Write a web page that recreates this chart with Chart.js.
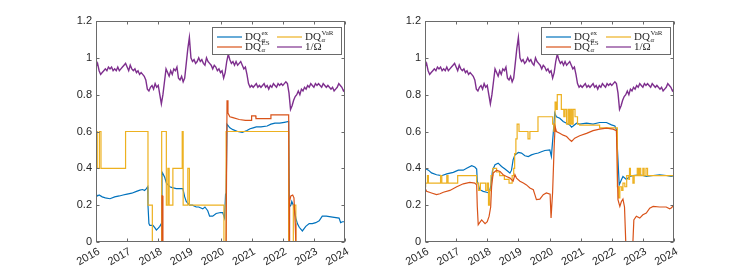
<!DOCTYPE html>
<html>
<head>
<meta charset="utf-8">
<script src="https://cdn.jsdelivr.net/npm/chart.js@4"></script>
<style>
  body { margin: 0; background: #fff; }
  #wrap { position: relative; width: 745px; height: 273px; }
  canvas { position: absolute; top: 0; }
</style>
</head>
<body>
<div id="wrap">
  <canvas id="left" width="372" height="273" style="left:0"></canvas>
  <canvas id="right" width="372" height="273" style="left:329px"></canvas>
</div>
<script>
// axis ticks
const xTicks = [2016, 2017, 2018, 2019, 2020, 2021, 2022, 2023, 2024];
const yTicks = [0, 0.2, 0.4, 0.6, 0.8, 1, 1.2];

// 1/Omega, same in both panels, sampled every 0.05 year from 2016
const omegaStart = 2016, omegaStep = 0.05;
const omegaVals = [
  0.95,0.97,0.93,0.91,0.92,0.93,0.94,0.93,0.95,0.94,0.95,0.93,0.94,0.93,0.95,0.93,0.94,0.95,0.96,0.97,
  0.95,0.93,0.96,0.94,0.93,0.94,0.92,0.93,0.91,0.92,0.91,0.90,0.88,0.83,0.82,0.84,0.85,0.83,0.86,0.84,
  0.85,0.80,0.75,0.80,0.87,0.94,0.92,0.90,0.93,0.91,0.94,0.93,0.95,0.89,0.88,0.90,0.87,0.89,0.97,1.05,
  1.11,1.00,0.98,0.99,0.97,0.98,1.00,0.98,0.99,0.97,0.96,1.00,0.98,0.97,0.96,0.94,0.96,0.95,0.93,0.94,
  0.92,0.93,0.89,0.92,0.98,1.02,0.99,0.97,0.98,0.96,0.98,0.96,0.97,0.98,0.96,0.94,0.95,0.91,0.86,0.84,
  0.85,0.84,0.85,0.86,0.84,0.85,0.84,0.85,0.86,0.84,0.85,0.83,0.85,0.84,0.86,0.85,0.84,0.86,0.85,0.86,
  0.85,0.86,0.87,0.86,0.81,0.72,0.74,0.77,0.79,0.80,0.82,0.80,0.83,0.82,0.84,0.83,0.85,0.84,0.86,0.85,
  0.84,0.86,0.85,0.86,0.85,0.84,0.86,0.85,0.84,0.85,0.84,0.83,0.84,0.82,0.83,0.84,0.86,0.85,0.84,0.82,
  0.83
];

// left panel: DQ ex
const exLeftT = [
  2016.00,2016.05,2016.10,2016.20,2016.30,2016.45,2016.60,2016.75,2016.87,2017.00,
  2017.15,2017.30,2017.41,2017.50,2017.56,2017.62,2017.66,2017.67,2017.70,2017.73,
  2017.83,2017.90,2017.94,2018.00,2018.05,2018.10,2018.12,2018.14,2018.21,2018.26,
  2018.37,2018.45,2018.58,2018.70,2018.79,2018.85,2018.90,2019.01,2019.10,2019.22,
  2019.30,2019.43,2019.50,2019.59,2019.65,2019.75,2019.86,2020.00,2020.07,2020.13,
  2020.16,2020.18,2020.21,2020.30,2020.40,2020.55,2020.70,2020.85,2020.95,2021.05,
  2021.15,2021.30,2021.50,2021.62,2021.75,2021.90,2022.05,2022.19,2022.21,2022.26,
  2022.29,2022.34,2022.38,2022.42,2022.47,2022.53,2022.63,2022.74,2022.85,2022.95,
  2023.06,2023.17,2023.27,2023.40,2023.60,2023.81,2023.86,2023.92,2024.00
];
const exLeftV = [
  0.26,0.25,0.255,0.245,0.24,0.235,0.245,0.25,0.255,0.26,
  0.265,0.275,0.282,0.285,0.28,0.29,0.30,0.20,0.10,0.09,
  0.09,0.075,0.065,0.075,0.085,0.10,0.38,0.375,0.35,0.32,
  0.30,0.295,0.29,0.29,0.29,0.245,0.22,0.20,0.20,0.19,
  0.19,0.18,0.19,0.17,0.14,0.14,0.155,0.16,0.16,0.13,
  0.25,0.24,0.64,0.62,0.61,0.60,0.595,0.605,0.615,0.62,
  0.625,0.625,0.63,0.64,0.645,0.645,0.65,0.655,0.19,0.20,
  0.22,0.20,0.17,0.13,0.10,0.08,0.06,0.085,0.10,0.10,
  0.105,0.115,0.14,0.14,0.135,0.13,0.105,0.11,0.11
];
// left panel: DQ ES
const esLeftT = [
  2016.00,2018.11,2018.12,2018.14,2018.15,2020.18,2020.21,2020.24,2020.30,2020.40,
  2020.60,2020.80,2020.99,2021.00,2021.13,2021.14,2021.61,2021.62,2022.19,2022.21,
  2022.22,2022.26,2022.32,2022.36,2022.40,2022.42,2024.00
];
const esLeftV = [
  0,0,0.25,0.25,0,0,0.77,0.70,0.68,0.675,
  0.665,0.66,0.66,0.685,0.685,0.67,0.67,0.69,0.69,0,
  0.22,0.25,0.255,0.24,0.10,0,0
];
// left panel: DQ VaR (level starts at the given time)
const varLeftT = [
  2016.00,2016.04,2016.11,2016.16,2016.95,2017.67,2017.81,2018.11,2018.26,2018.31,
  2018.35,2018.47,2018.77,2018.80,2018.95,2019.00,2020.11,2020.18,2022.19,2022.34,
  2022.42,2024.00
];
const varLeftV = [
  0.6,0.4,0.6,0.4,0.6,0.2,0,0.6,0.2,0.4,
  0.2,0.4,0.6,0.2,0.4,0.2,0,0.6,0,0.2,
  0,0
];

// right panel: DQ ex
const exRightT = [
  2016.00,2016.05,2016.11,2016.21,2016.37,2016.53,2016.70,2016.91,2017.07,2017.23,
  2017.34,2017.50,2017.60,2017.66,2017.68,2017.76,2017.87,2017.98,2018.06,2018.11,
  2018.17,2018.25,2018.35,2018.46,2018.57,2018.67,2018.73,2018.78,2018.83,2018.89,
  2019.00,2019.10,2019.21,2019.32,2019.42,2019.53,2019.64,2019.74,2019.85,2020.01,
  2020.06,2020.12,2020.17,2020.22,2020.33,2020.44,2020.55,2020.65,2020.71,2020.76,
  2020.87,2020.97,2021.19,2021.40,2021.61,2021.83,2021.99,2022.10,2022.15,2022.20,
  2022.24,2022.31,2022.36,2022.47,2022.58,2022.68,2022.90,2023.11,2023.33,2023.54,
  2023.75,2023.91,2024.00
];
const exRightV = [
  0.40,0.395,0.39,0.375,0.365,0.36,0.37,0.378,0.39,0.39,
  0.40,0.414,0.407,0.396,0.33,0.284,0.275,0.27,0.266,0.30,
  0.39,0.42,0.428,0.41,0.396,0.383,0.374,0.39,0.446,0.473,
  0.486,0.483,0.468,0.464,0.473,0.479,0.483,0.49,0.497,0.50,
  0.465,0.59,0.70,0.68,0.672,0.654,0.645,0.636,0.624,0.63,
  0.645,0.64,0.645,0.64,0.649,0.649,0.636,0.63,0.61,0.446,
  0.31,0.338,0.356,0.34,0.356,0.36,0.365,0.356,0.361,0.365,
  0.361,0.356,0.361
];
// right panel: DQ ES
const esRightT = [
  2016.00,2016.05,2016.21,2016.37,2016.48,2016.59,2016.80,2017.02,2017.23,2017.44,
  2017.60,2017.66,2017.68,2017.71,2017.82,2017.93,2018.00,2018.06,2018.11,2018.14,
  2018.19,2018.30,2018.41,2018.51,2018.62,2018.73,2018.83,2018.89,2018.94,2019.05,
  2019.16,2019.26,2019.37,2019.48,2019.53,2019.58,2019.69,2019.80,2019.90,2020.02,
  2020.05,2020.10,2020.15,2020.18,2020.22,2020.33,2020.44,2020.55,2020.65,2020.71,
  2020.81,2020.97,2021.19,2021.40,2021.61,2021.83,2022.04,2022.15,2022.20,2022.26,
  2022.31,2022.36,2022.41,2022.45,2022.68,2022.71,2022.79,2022.90,2023.00,2023.11,
  2023.22,2023.33,2023.54,2023.75,2023.86,2023.91,2024.00
];
const esRightV = [
  0.293,0.275,0.266,0.257,0.262,0.27,0.28,0.30,0.316,0.324,
  0.32,0.31,0.193,0.094,0.12,0.10,0.11,0.14,0.19,0.30,
  0.374,0.39,0.383,0.365,0.356,0.347,0.33,0.365,0.347,0.33,
  0.32,0.31,0.293,0.284,0.257,0.23,0.233,0.257,0.266,0.26,
  0.13,0.27,0.52,0.627,0.60,0.59,0.58,0.573,0.555,0.546,
  0.564,0.577,0.59,0.605,0.613,0.618,0.613,0.605,0.23,0.193,
  0.22,0.233,0.19,0,0,0.12,0.14,0.13,0.148,0.157,
  0.184,0.193,0.19,0.19,0.18,0.185,0.20
];
// right panel: DQ VaR (level starts at the given time)
const varRightT = [
  2016.00,2016.02,2016.08,2016.11,2016.50,2016.54,2016.70,2016.74,2017.05,2017.66,
  2017.72,2017.78,2017.95,2018.00,2018.04,2018.08,2018.12,2018.18,2018.30,2018.40,
  2018.55,2018.70,2018.80,2018.85,2018.88,2018.92,2018.96,2019.02,2019.31,2019.37,
  2019.63,2020.10,2020.14,2020.18,2020.22,2020.25,2020.38,2020.46,2020.50,2020.55,
  2020.60,2020.64,2020.68,2020.72,2020.76,2020.82,2020.90,2020.97,2021.61,2022.18,
  2022.22,2022.26,2022.32,2022.36,2022.42,2022.48,2022.55,2022.57,2022.60,2022.68,
  2022.72,2022.82,2022.86,2022.89,2022.93,2023.00,2023.04,2023.10,2023.15,2024.00
];
const varRightV = [
  0.30,0.32,0.36,0.32,0.36,0.32,0.36,0.32,0.36,0.32,
  0.28,0.32,0.28,0.32,0.20,0.28,0.36,0.40,0.38,0.36,
  0.34,0.32,0.36,0.40,0.48,0.56,0.64,0.60,0.56,0.60,
  0.68,0.64,0.60,0.76,0.72,0.80,0.72,0.68,0.72,0.64,
  0.72,0.64,0.72,0.64,0.72,0.68,0.64,0.635,0.62,0.30,
  0.24,0.30,0.28,0.32,0.30,0.36,0.34,0.40,0.36,0.32,
  0.36,0.40,0.36,0.40,0.36,0.40,0.36,0.40,0.36,0.36
];

const BLUE = '#0072BD', ORANGE = '#D95319', YELLOW = '#EDB120', PURPLE = '#7E2F8E';
const AXIS = '#6a6a6a', TEXT = '#262626';

function pts(t, v) { return t.map((x, i) => ({ x: x, y: v[i] })); }
const omegaPts = omegaVals.map((v, i) => ({ x: omegaStart + i * omegaStep, y: v }));

function drawLegend(ctx, a) {
  const w = 129, h = 27;
  const x0 = Math.round(a.right) - 4 - w, y0 = Math.round(a.top) + 6;
  ctx.fillStyle = '#fff';
  ctx.fillRect(x0, y0, w, h);
  ctx.strokeStyle = AXIS;
  ctx.lineWidth = 1;
  ctx.strokeRect(x0 + 0.5, y0 + 0.5, w, h);
  const items = [
    { c: BLUE, col: 0, row: 0, sup: 'ex' },
    { c: YELLOW, col: 1, row: 0, sup: 'VaR' },
    { c: ORANGE, col: 0, row: 1, sup: 'ES' },
    { c: PURPLE, col: 1, row: 1, text: '1/\u03A9' }
  ];
  const colX = [5, 65], rowY = [10, 20];
  items.forEach(it => {
    const lx = x0 + colX[it.col], ly = y0 + rowY[it.row];
    ctx.strokeStyle = it.c;
    ctx.lineWidth = 1.2;
    ctx.beginPath();
    ctx.moveTo(lx, ly); ctx.lineTo(lx + 25, ly);
    ctx.stroke();
    ctx.fillStyle = TEXT;
    ctx.textBaseline = 'middle';
    ctx.textAlign = 'left';
    const tx = lx + 28;
    ctx.font = '11px "Liberation Serif", serif';
    if (it.text) {
      ctx.fillText(it.text, tx, ly);
    } else {
      ctx.fillText('DQ', tx, ly);
      const dw = ctx.measureText('DQ').width;
      ctx.font = '7px "Liberation Serif", serif';
      ctx.fillText(it.sup, tx + dw + 0.5, ly - 4);
      ctx.font = 'italic 7px "Liberation Serif", serif';
      ctx.fillText('\u03B1', tx + dw + 0.5, ly + 3);
    }
  });
}

const frame = {
  id: 'frame',
  afterDatasetsDraw(chart) {
    const { ctx, chartArea: a, scales: { x, y } } = chart;
    ctx.save();
    const L = Math.round(a.left) + 0.5, R = Math.round(a.right) - 0.5;
    const T = Math.round(a.top) + 0.5, B = Math.round(a.bottom) - 0.5;
    ctx.strokeStyle = AXIS;
    ctx.lineWidth = 1;
    ctx.strokeRect(L, T, R - L, B - T);
    ctx.beginPath();
    x.ticks.forEach(t => {
      const px = Math.round(x.getPixelForValue(t.value)) + 0.5;
      ctx.moveTo(px, B); ctx.lineTo(px, B - 3);
      ctx.moveTo(px, T); ctx.lineTo(px, T + 3);
    });
    y.ticks.forEach(t => {
      const py = Math.round(y.getPixelForValue(t.value)) + 0.5;
      ctx.moveTo(L, py); ctx.lineTo(L + 3, py);
      ctx.moveTo(R, py); ctx.lineTo(R - 3, py);
    });
    ctx.stroke();
    drawLegend(ctx, a);
    ctx.restore();
  }
};

function makeChart(id, ex, es, vr) {
  const tickFont = { family: '"Liberation Sans", Arial, sans-serif', size: 11 };
  new Chart(document.getElementById(id), {
    type: 'line',
    data: {
      datasets: [
        { label: 'ex', data: ex, borderColor: BLUE, order: 4 },
        { label: 'VaR', data: vr, borderColor: YELLOW, stepped: 'before', order: 3 },
        { label: 'ES', data: es, borderColor: ORANGE, order: 2 },
        { label: 'omega', data: omegaPts, borderColor: PURPLE, borderWidth: 1.4, order: 1 }
      ]
    },
    options: {
      responsive: false,
      animation: false,
      devicePixelRatio: 1,
      elements: { point: { radius: 0 }, line: { borderWidth: 1.2, tension: 0 } },
      layout: { padding: { top: 21, right: 27, left: 0, bottom: 0 } },
      plugins: { legend: { display: false }, tooltip: { enabled: false } },
      scales: {
        x: {
          type: 'linear', min: 2016, max: 2024,
          afterBuildTicks: s => { s.ticks = xTicks.map(v => ({ value: v })); },
          afterFit: s => { s.height = 31; s.paddingLeft = 0; s.paddingRight = 0; },
          grid: { display: false, drawTicks: false }, border: { display: false },
          ticks: { autoSkip: false, maxRotation: 30, minRotation: 30, padding: 3, labelOffset: 3,
                   color: TEXT, font: tickFont, callback: v => String(v) }
        },
        y: {
          min: 0, max: 1.2,
          afterBuildTicks: s => { s.ticks = yTicks.map(v => ({ value: v })); },
          afterFit: s => { s.width = 96; },
          grid: { display: false, drawTicks: false }, border: { display: false },
          ticks: { padding: 4, color: TEXT, font: tickFont, callback: v => String(+v.toFixed(1)) }
        }
      }
    },
    plugins: [frame]
  });
}

makeChart('left', pts(exLeftT, exLeftV), pts(esLeftT, esLeftV), pts(varLeftT, varLeftV));
makeChart('right', pts(exRightT, exRightV), pts(esRightT, esRightV), pts(varRightT, varRightV));
</script>
</body>
</html>
